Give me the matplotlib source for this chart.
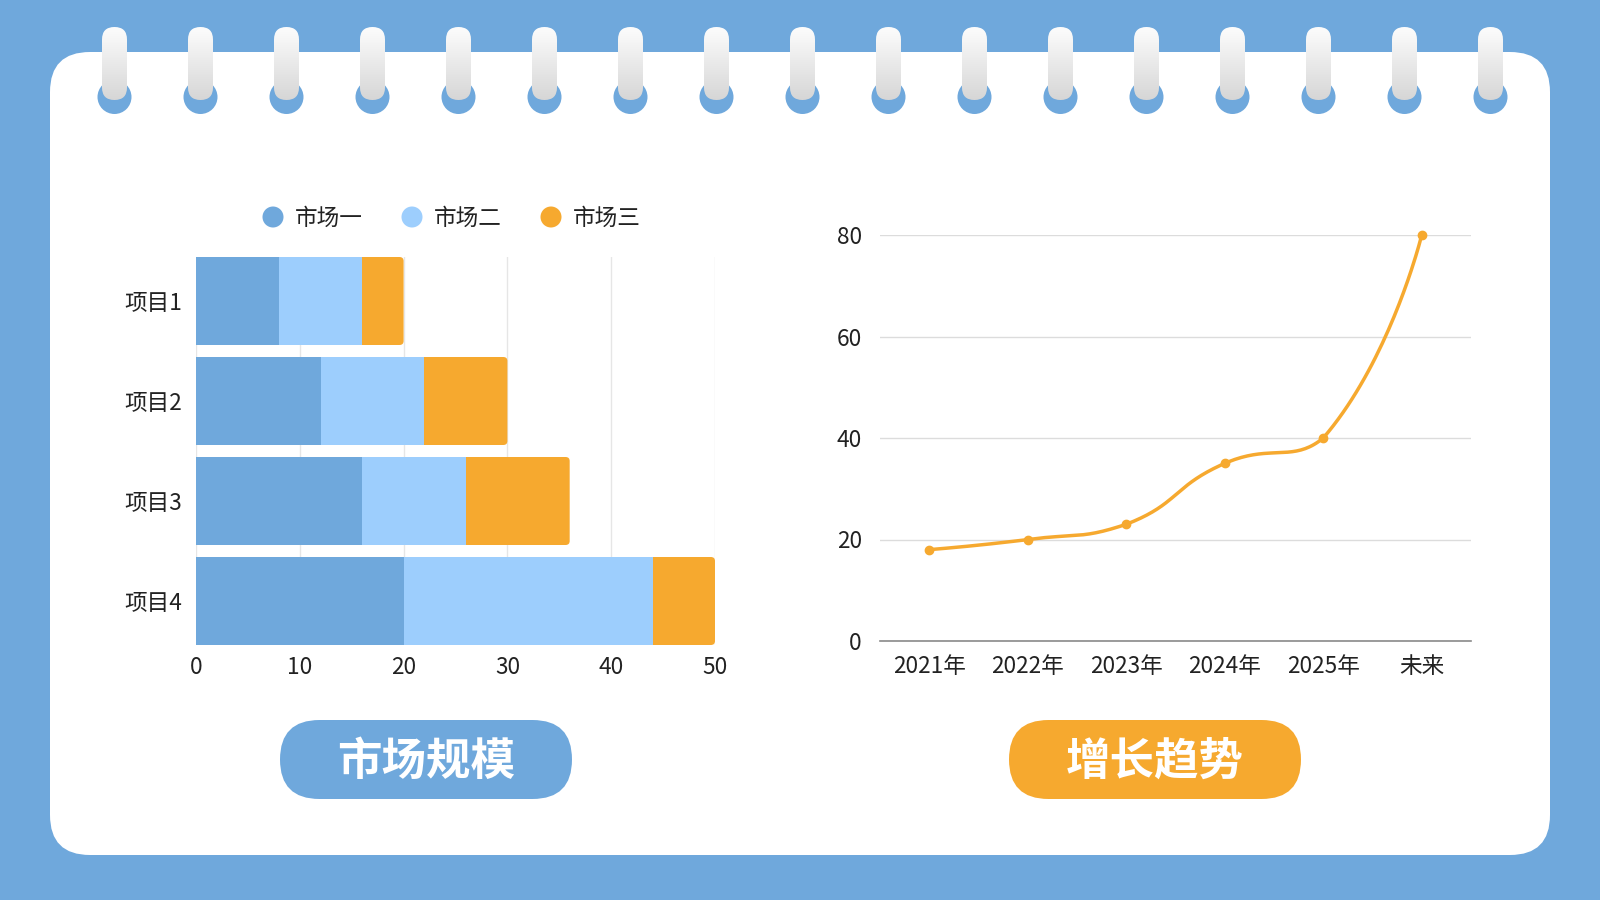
import numpy as np
import matplotlib
matplotlib.use("Agg")
import matplotlib.pyplot as plt
from matplotlib.patches import FancyBboxPatch, Circle

plt.rcParams['font.family'] = ['Noto Sans CJK SC', 'DejaVu Sans']

# 数据
projects = ['项目1', '项目2', '项目3', '项目4']
market_names = ['市场一', '市场二', '市场三']
market1 = [8, 12, 16, 20]
market2 = [8, 10, 10, 24]
market3 = [4, 8, 10, 6]

years = ['2021年', '2022年', '2023年', '2024年', '2025年', '未来']
trend = [18, 20, 23, 35, 40, 80]

BLUE = '#6fa8dc'
LIGHT = '#9dcefd'
ORANGE = '#f6a92f'
GRID = '#e6e6e6'
FS = 16.3

W, H = 1600, 900
fig = plt.figure(figsize=(16, 9), dpi=100)
fig.patch.set_facecolor(BLUE)


def rect(left, top, right, bottom):
    return [left / W, 1 - bottom / H, (right - left) / W, (bottom - top) / H]


# 背景层 (像素坐标)
bg = fig.add_axes([0, 0, 1, 1])
bg.set_xlim(0, W)
bg.set_ylim(H, 0)
bg.set_autoscale_on(False)
bg.axis('off')

card = FancyBboxPatch((50, 52), 1500, 803, boxstyle='round,pad=0,rounding_size=40',
                      facecolor='white', edgecolor='none')
bg.add_patch(card)

# 线圈
grad = np.linspace(0.99, 0.84, 64).reshape(-1, 1)
grad = np.dstack([grad, grad, grad])
for i in range(17):
    cx = 114.5 + i * 86
    bg.add_patch(Circle((cx, 97), 17, facecolor=BLUE, edgecolor='none'))
    pill = FancyBboxPatch((cx - 12.5, 27), 25, 73, boxstyle='round,pad=0,rounding_size=12.5',
                          facecolor='none', edgecolor='none')
    bg.add_patch(pill)
    im = bg.imshow(grad, extent=(cx - 12.5, cx + 12.5, 100, 27), origin='upper',
                   aspect='auto', interpolation='bilinear', zorder=3)
    im.set_clip_path(pill)

# 图例
leg_x = [273, 412, 551]
for x, name, c in zip(leg_x, market_names, [BLUE, LIGHT, ORANGE]):
    bg.add_patch(Circle((x, 217), 10.5, facecolor=c, edgecolor='none'))
    bg.text(x + 22, 218, name, fontsize=FS, va='center', ha='left', color='#222222')

# 按钮
for cx, label, c in [(426, '市场规模', BLUE), (1155, '增长趋势', ORANGE)]:
    bg.add_patch(FancyBboxPatch((cx - 146, 720), 292, 79, boxstyle='round,pad=0,rounding_size=39.5',
                                facecolor=c, edgecolor='none'))
    bg.text(cx, 762, label, fontsize=32, fontweight='bold', color='white', ha='center', va='center')

# 堆叠条形图
ax1 = fig.add_axes(rect(196, 257, 715, 645))
ax1.patch.set_alpha(0)
ypos = np.arange(len(projects))
h = 0.88
ax1.barh(ypos, market1, height=h, color=BLUE, zorder=2)
left2 = np.array(market1)
ax1.barh(ypos, market2, left=left2, height=h, color=LIGHT, zorder=2)
left3 = left2 + np.array(market2)
r = 0.4  # 圆角宽度 (数据单位)
ax1.barh(ypos, np.array(market3) - r, left=left3, height=h, color=ORANGE, zorder=2)
for y, l, v in zip(ypos, left3, market3):
    ax1.add_patch(FancyBboxPatch((l + v - 2 * r, y - h / 2), 2 * r, h,
                                 boxstyle='round,pad=0,rounding_size=0.4',
                                 mutation_aspect=0.1, facecolor=ORANGE, edgecolor='none', zorder=2))
ax1.set_xlim(0, 50)
ax1.set_ylim(3 + 0.44, -0.44)
ax1.set_xticks([0, 10, 20, 30, 40, 50])
ax1.set_yticks(ypos)
ax1.set_yticklabels(projects)
ax1.grid(axis='x', color=GRID, linewidth=1, zorder=0)
ax1.set_axisbelow(True)
for s in ax1.spines.values():
    s.set_visible(False)
ax1.tick_params(axis='both', length=0, labelsize=FS, colors='#222222')
ax1.tick_params(axis='x', pad=8)
ax1.tick_params(axis='y', pad=10)

# 折线图
ax2 = fig.add_axes(rect(880, 235, 1471, 641))
ax2.patch.set_alpha(0)
xs = np.arange(len(years))
ax2.set_xlim(-0.5, len(years) - 0.5)
ax2.set_ylim(0, 80)
ax2.set_yticks([0, 20, 40, 60, 80])
ax2.set_xticks(xs)
ax2.set_xticklabels(years)
ax2.grid(axis='y', color='#dcdcdc', linewidth=1)
ax2.set_axisbelow(True)
for k in ['top', 'right', 'left']:
    ax2.spines[k].set_visible(False)
ax2.spines['bottom'].set_color('#8a8a8a')
ax2.spines['bottom'].set_linewidth(1.2)
ax2.tick_params(axis='both', length=0, labelsize=FS, colors='#222222')
ax2.tick_params(axis='x', pad=10)
ax2.tick_params(axis='y', pad=13)

# 平滑曲线 (屏幕坐标下的贝塞尔平滑, 控制点限制在相邻点之间)
pts = ax2.transData.transform(np.column_stack([xs, trend]))
n = len(pts)
smooth = 0.5
cp_prev = pts.copy()
cp_next = pts.copy()
for i in range(1, n - 1):
    p0, p, p1 = pts[i - 1], pts[i], pts[i + 1]
    v = p1 - p0
    d0 = np.hypot(*(p - p0))
    d1 = np.hypot(*(p1 - p))
    ratio = d1 / (d0 + d1)
    cp_prev[i] = p - v * smooth * (1 - ratio)
    cp_next[i] = p + v * smooth * ratio
    cp_prev[i, 1] = np.clip(cp_prev[i, 1], min(p0[1], p[1]), max(p0[1], p[1]))
    cp_next[i, 1] = np.clip(cp_next[i, 1], min(p[1], p1[1]), max(p[1], p1[1]))
curve = []
t = np.linspace(0, 1, 40)[:, None]
for i in range(n - 1):
    a, b, c, d = pts[i], cp_next[i], cp_prev[i + 1], pts[i + 1]
    seg = (1 - t) ** 3 * a + 3 * (1 - t) ** 2 * t * b + 3 * (1 - t) * t ** 2 * c + t ** 3 * d
    curve.append(seg)
curve = ax2.transData.inverted().transform(np.vstack(curve))
ax2.plot(curve[:, 0], curve[:, 1], color=ORANGE, linewidth=2.5, clip_on=False, zorder=3,
         solid_capstyle='round')
ax2.plot(xs, trend, 'o', color=ORANGE, markersize=6, clip_on=False, zorder=4)

fig.savefig('out.png', dpi=100, facecolor=fig.get_facecolor())
